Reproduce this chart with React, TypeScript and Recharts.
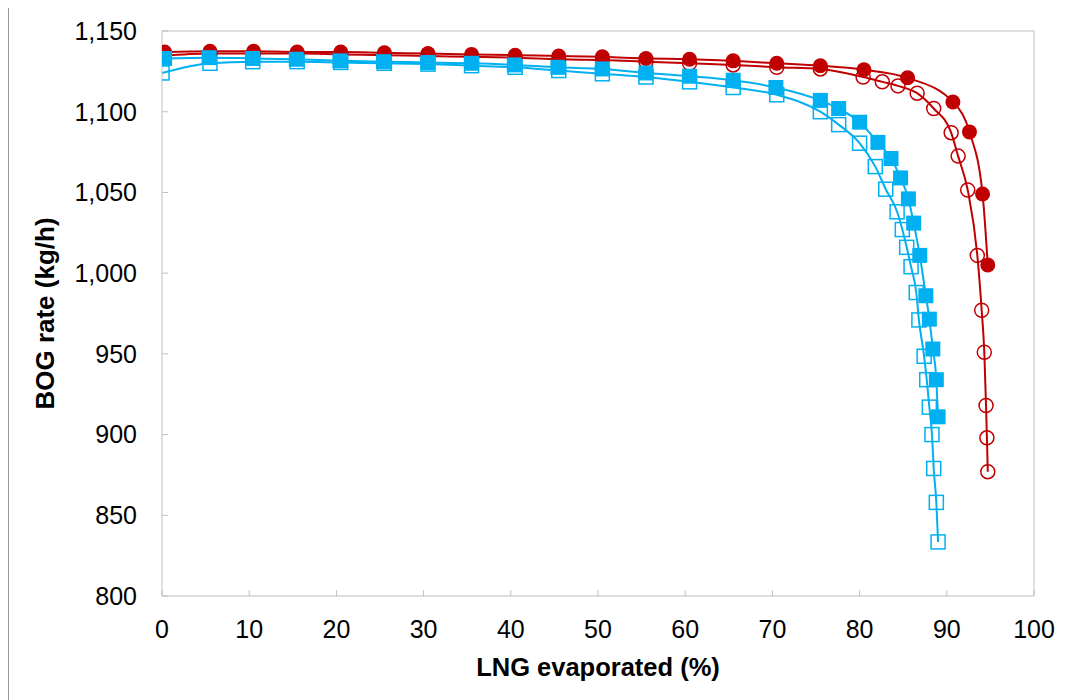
import React from 'react';
import { LineChart, Line, XAxis, YAxis, ReferenceLine } from 'recharts';

// LNG evaporated (%) and BOG rate (kg/h)
const redFilledX = [0.3, 5.5, 10.5, 15.5, 20.5, 25.5, 30.5, 35.5, 40.5, 45.5, 50.5, 55.5, 60.5, 65.5, 70.5, 75.5, 80.5, 85.5, 90.7, 92.6, 94.1, 94.7];
const redFilledY = [1137, 1137.5, 1137.5, 1137, 1137, 1136.5, 1136, 1135.5, 1135, 1134.5, 1134, 1133, 1132.5, 1131.5, 1130, 1128.5, 1126, 1121, 1106, 1087.5, 1049, 1005];

const redOpenX = [0, 5.5, 10.5, 15.5, 20.5, 25.5, 30.5, 35.5, 40.5, 45.5, 50.5, 55.5, 60.5, 65.5, 70.5, 75.5, 80.4, 82.6, 84.4, 86.6, 88.5, 90.5, 91.3, 92.4, 93.5, 94.0, 94.3, 94.5, 94.6, 94.7];
const redOpenY = [1134.5, 1136, 1136, 1136, 1135.5, 1135, 1134.5, 1134, 1133.5, 1132.5, 1132, 1131, 1130, 1129, 1127.5, 1126.5, 1121.5, 1118.5, 1116, 1111.5, 1102, 1087, 1072.5, 1051.5, 1011, 977, 951, 918, 898, 877];

const blueFilledX = [0.3, 5.4, 10.4, 15.4, 20.4, 25.4, 30.5, 35.5, 40.4, 45.4, 50.5, 55.5, 60.5, 65.5, 70.4, 75.5, 77.6, 80.0, 82.1, 83.6, 84.7, 85.6, 86.2, 86.9, 87.6, 88.0, 88.4, 88.8, 89.0];
const blueFilledY = [1133, 1133.5, 1133, 1132.5, 1131.5, 1131, 1130.5, 1130, 1129, 1127.5, 1126.5, 1124, 1122, 1119.5, 1115, 1107, 1102, 1093.5, 1081, 1071, 1059, 1046, 1031, 1011, 986, 971.5, 953, 934, 911];

const blueOpenX = [0, 5.5, 10.4, 15.5, 20.5, 25.5, 30.5, 35.5, 40.5, 45.5, 50.5, 55.5, 60.5, 65.5, 70.5, 75.5, 77.6, 80.0, 81.8, 83.0, 84.3, 84.9, 85.4, 85.9, 86.5, 86.8, 87.4, 87.7, 88.0, 88.3, 88.5, 88.8, 89.0];
const blueOpenY = [1124, 1130, 1131, 1131, 1130.5, 1130, 1129.5, 1128.5, 1127.5, 1125.5, 1123.5, 1121.5, 1118.5, 1115, 1110.5, 1100, 1092, 1080.5, 1066, 1052, 1038, 1027, 1016, 1004, 988, 971, 948.5, 934, 917, 900, 879, 858, 833.5];

const xTicks = [0, 10, 20, 30, 40, 50, 60, 70, 80, 90, 100];
const yTicks = [800, 850, 900, 950, 1000, 1050, 1100, 1150];

const RED = '#C00000';
const BLUE = '#00B0F0';
const AXIS = '#BFBFBF';
const FONT = '"Liberation Sans", Arial, sans-serif';

const zip = (xs: number[], ys: number[]) => xs.map((x, i) => ({ x, y: ys[i] }));

const redFilled = zip(redFilledX, redFilledY);
const redOpen = zip(redOpenX, redOpenY);
const blueFilled = zip(blueFilledX, blueFilledY);
const blueOpen = zip(blueOpenX, blueOpenY);

const FilledCircle = (p: any) => <circle key={`rf-${p.index}`} cx={p.cx} cy={p.cy} r={7.5} fill={RED} />;
const OpenCircle = (p: any) => <circle key={`ro-${p.index}`} cx={p.cx} cy={p.cy} r={7} fill="none" stroke={RED} strokeWidth={1.5} />;
const FilledSquare = (p: any) => <rect key={`bf-${p.index}`} x={p.cx - 7.5} y={p.cy - 7.5} width={15} height={15} fill={BLUE} />;
const OpenSquare = (p: any) => <rect key={`bo-${p.index}`} x={p.cx - 7} y={p.cy - 7} width={14} height={14} fill="none" stroke={BLUE} strokeWidth={1.5} />;

const XTitle = (props: any) => {
  const { x, y, width } = props.viewBox;
  return (
    <text x={x + width / 2} y={y + 71} textAnchor="middle" dominantBaseline="central" fontFamily={FONT} fontSize={25.5} fontWeight="bold" fill="#000">
      LNG evaporated (%)
    </text>
  );
};

const YTitle = (props: any) => {
  const { x, y, height } = props.viewBox;
  const cx = x + 36;
  const cy = y + height / 2;
  return (
    <text x={cx} y={cy} transform={`rotate(-90, ${cx}, ${cy})`} textAnchor="middle" dominantBaseline="central" fontFamily={FONT} fontSize={26} fontWeight="bold" fill="#000">
      BOG rate (kg/h)
    </text>
  );
};

const App: React.FC = () => {
  const tickStyle = { fill: '#000', fontSize: 25, fontFamily: FONT };
  return (
    <div style={{ width: 1057, height: 700, border: '1px solid #999', boxSizing: 'border-box', marginTop: -1, background: '#fff' }}>
      <LineChart width={1050} height={692} margin={{ top: 23, right: 25, left: 0, bottom: 0 }}>
        <XAxis
          dataKey="x"
          type="number"
          domain={[0, 100]}
          ticks={xTicks}
          stroke={AXIS}
          tickSize={-6}
          tickMargin={30}
          tick={tickStyle}
          height={104}
          interval={0}
          allowDataOverflow
          label={<XTitle />}
        />
        <YAxis
          type="number"
          domain={[800, 1150]}
          ticks={yTicks}
          stroke={AXIS}
          tickSize={-6}
          tickMargin={31}
          tick={tickStyle}
          width={153}
          interval={0}
          allowDataOverflow
          tickFormatter={(v: number) => v.toLocaleString('en-US')}
          label={<YTitle />}
        />
        <ReferenceLine y={1150} stroke={AXIS} />
        <ReferenceLine x={100} stroke={AXIS} />
        <Line data={redOpen} dataKey="y" type="monotone" stroke={RED} strokeWidth={2} dot={OpenCircle} activeDot={false} isAnimationActive={false} />
        <Line data={redFilled} dataKey="y" type="monotone" stroke={RED} strokeWidth={2} dot={FilledCircle} activeDot={false} isAnimationActive={false} />
        <Line data={blueOpen} dataKey="y" type="monotone" stroke={BLUE} strokeWidth={2} dot={OpenSquare} activeDot={false} isAnimationActive={false} />
        <Line data={blueFilled} dataKey="y" type="monotone" stroke={BLUE} strokeWidth={2} dot={FilledSquare} activeDot={false} isAnimationActive={false} />
      </LineChart>
    </div>
  );
};

export default App;
